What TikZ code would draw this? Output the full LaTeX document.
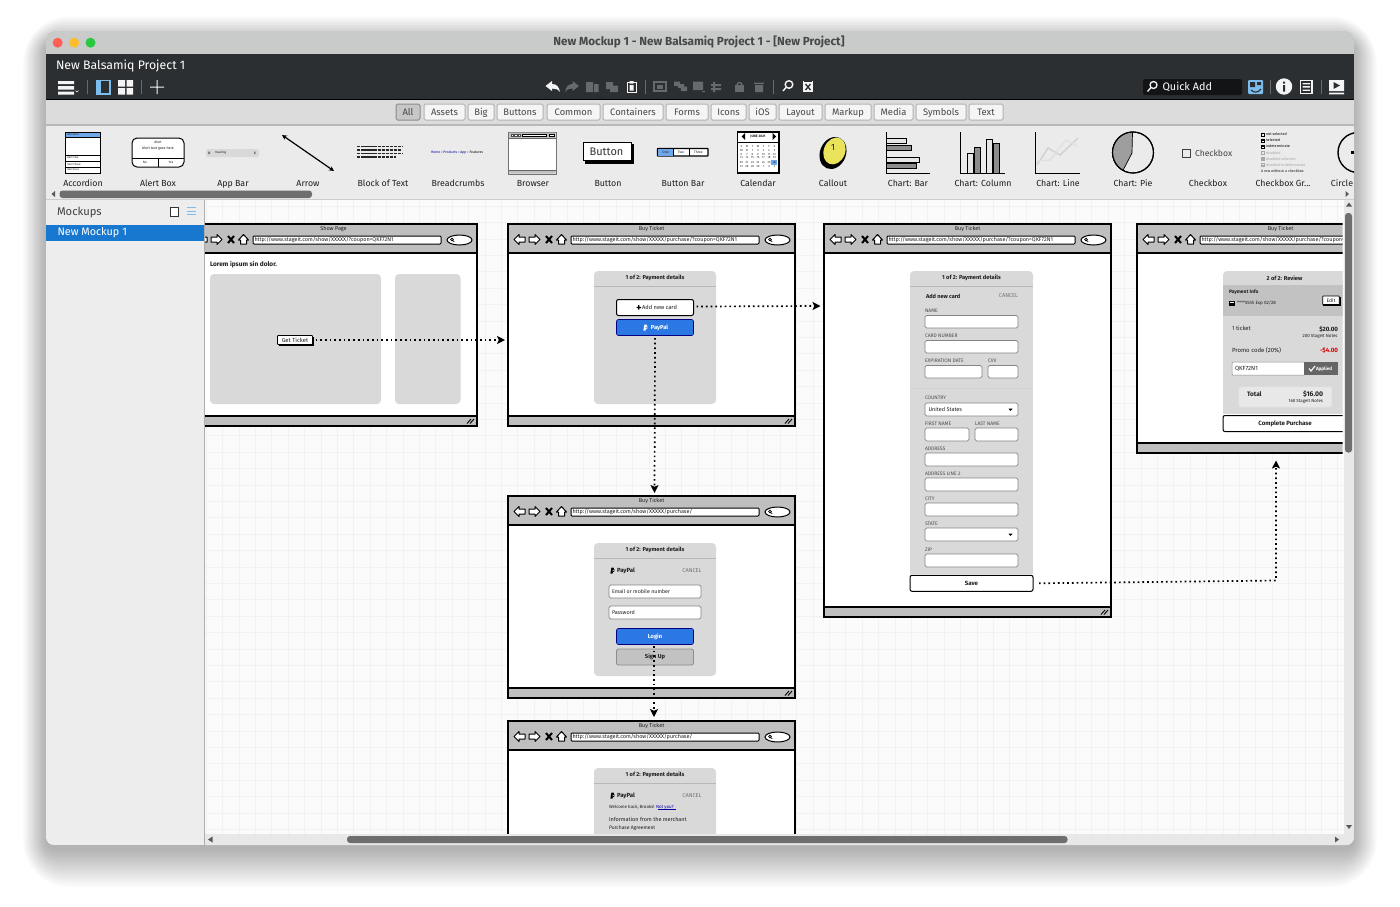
\documentclass[tikz,border=0pt]{standalone}
\usepackage{fontspec}
\setmainfont{Fira Sans}
\usetikzlibrary{arrows.meta,calc}
\definecolor{titlebar}{HTML}{C9CBCA}
\definecolor{darkbar}{HTML}{2B2F32}
\definecolor{tabbar}{HTML}{DCDCDC}
\definecolor{libbg}{HTML}{EBEBEB}
\definecolor{sidebg}{HTML}{EDEDED}
\definecolor{canvasbg}{HTML}{FBFBFB}
\definecolor{gridc}{HTML}{F2F2F2}
\definecolor{selblue}{HTML}{1878D0}
\definecolor{btnblue}{HTML}{2B78E4}
\definecolor{lightblue}{HTML}{6FA8EA}
\definecolor{skyblue}{HTML}{7DBDEE}
\definecolor{barg}{HTML}{BFBFBF}
\definecolor{panelg}{HTML}{D9D9D9}
\definecolor{ink}{HTML}{1E1E1E}
\definecolor{toolw}{HTML}{F4F4F4}
\definecolor{toolg}{HTML}{666A6C}
\definecolor{scrollg}{HTML}{6E6E6E}
\definecolor{tlred}{HTML}{FF5F57}
\definecolor{tlyellow}{HTML}{FEBC2E}
\definecolor{tlgreen}{HTML}{28C840}
\definecolor{calloutc}{HTML}{E8E35A}
\newcounter{autonode}
\newcommand{\fs}[1]{\fontsize{#1}{#1}\selectfont}
\tikzset{
  every node/.append style={inner sep=0pt,outer sep=0pt,text=ink,
    /utils/exec={\stepcounter{autonode}},name=n\arabic{autonode}},
  lib/.style={anchor=center,font=\fs{8.8}},
  tabbox/.style={draw=black!30,line width=1pt,fill=white!96!black,rounded corners=1.5pt},
  field/.style={draw=black!48,line width=.8pt,fill=white,rounded corners=1.6pt},
  sk/.style={draw=black,line width=1.1pt},
  panel/.style={fill=panelg,rounded corners=4pt},
  flabel/.style={anchor=west,font=\fs{5},text=black!70},
  btnw/.style={draw=black,line width=1pt,fill=white,rounded corners=2pt,anchor=center,font=\bfseries\fs{6.1}},
  btnb/.style={draw=blue!50!black,line width=.6pt,fill=btnblue,rounded corners=2pt,anchor=center,font=\bfseries\fs{5.8},text=white},
  link/.style={draw=black,line width=1.7pt,dash pattern=on 1.7pt off 3pt,-{Stealth[length=8pt,width=8pt,inset=1.8pt]}},
  ticon/.style={fill=toolw,draw=none},
  gicon/.style={fill=toolg,draw=none},
}
% browser mockup: name, left, top, height, title, url
\newcommand{\mockbrowser}[6]{%
  \begin{scope}[shift={(#2,#3)}]
    \node[anchor=north west,minimum width=287pt,minimum height=#4pt,fill=white,draw=none] (#1) at (0,0) {};
    \fill[barg] (0,0) rectangle (287,29);
    \fill[barg] (0,#4-10) rectangle (287,#4);
    \draw[sk] (0,0) rectangle (287,#4);
    \draw[sk] (0,29) -- (287,29);
    \draw[sk] (0,#4-10) -- (287,#4-10);
    \node[font=\fs{5.5}] at (143.5,5) {#5};
    % back / forward / stop / home
    \draw[fill=white,line width=1pt,line join=round] (6,15.5) -- (11,10.5) -- (11,13) -- (17,13) -- (17,18) -- (11,18) -- (11,20.5) -- cycle;
    \draw[fill=white,line width=1pt,line join=round] (32,15.5) -- (27,10.5) -- (27,13) -- (21,13) -- (21,18) -- (27,18) -- (27,20.5) -- cycle;
    \draw[line width=2pt] (38,12) -- (44,19) (44,12) -- (38,19);
    \draw[fill=white,line width=1pt,line join=round] (53.5,10.5) -- (58.5,16) -- (56.5,16) -- (56.5,20) -- (50.5,20) -- (50.5,16) -- (48.5,16) -- cycle;
    \draw[line width=1pt,fill=white,rounded corners=1pt] (63,12) rectangle (251,20);
    \node[anchor=west,font=\fs{5.5}] at (64.5,16) {#6};
    \draw[line width=1pt,fill=white] (269.5,16) ellipse [x radius=12.5pt,y radius=5pt];
    \draw[line width=.7pt] (262,15.5) circle [radius=1.4pt] (263,16.8) -- (264.2,17.8);
    \draw[line width=.9pt] (280,#4-2.5) -- (284,#4-7) (277,#4-2.5) -- (281,#4-7);
  \end{scope}}
\newcommand{\pplogo}[3]{%
  \fill[#3] (#1-1.6,#2+3) -- (#1-.6,#2-3) -- (#1+1.4,#2-3) .. controls (#1+2.8,#2-3) and (#1+2.6,#2+.4) .. (#1,#2+.4) -- (#1-.3,#2+3) -- cycle;
  \fill[#3] (#1-.4,#2+3.2) -- (#1,#2+.9) .. controls (#1+2,#2+.8) and (#1+2.6,#2-.6) .. (#1+2.2,#2-1.4) .. controls (#1+3.6,#2+.2) and (#1+2,#2+1.8) .. (#1+.8,#2+1.8) -- (#1+.5,#2+3.2) -- cycle;}
\begin{document}
\begin{tikzpicture}[x=1pt,y=-1pt]
\useasboundingbox (0,0) rectangle (1400,906);
\fill[white] (0,0) rectangle (1400,906);
% soft window shadow
\foreach \g in {0,2,...,38}{
  \fill[black,opacity=.014,rounded corners=8pt+\g*1pt] (46-\g*.6,31+12-\g*.7) rectangle (1354+\g*.6,845+4+\g);
}
\begin{scope}
\clip[rounded corners=8pt] (46,31) rectangle (1354,845);
\fill[sidebg] (46,31) rectangle (1354,845);
% title bar
\fill[titlebar] (46,31) rectangle (1354,54);
\fill[darkbar] (46,54) rectangle (1354,99);
\fill[black] (46,99) rectangle (1354,100);
\fill[tabbar] (46,100) rectangle (1354,124);
\fill[black!28] (46,124) rectangle (1354,125.5);
\fill[libbg] (46,125.5) rectangle (1354,199);
\fill[black!20] (46,199) rectangle (1354,200);
\node[font=\bfseries\fs{11.7},text=black!72] (wintitle) at (699,42.2) {New Mockup 1 - New Balsamiq Project 1 - [New Project]};
\fill[tlred] (57.7,42.7) circle [radius=5pt];
\fill[tlyellow] (74.2,42.7) circle [radius=5pt];
\fill[tlgreen] (90.5,42.7) circle [radius=5pt];
\node[anchor=west,text=white,font=\fs{12.3}] (project) at (56,65.7) {New Balsamiq Project 1};
% left toolbar
\fill[toolw] (58,81) rectangle (74,84) (58,86) rectangle (74,89.5) (58,91.5) rectangle (74,94.5);
\draw[toolw,line width=.6pt] (75.5,90.5) -- (77,92) -- (78.5,90.5);
\draw[toolg,line width=1pt] (87.5,80) -- (87.5,94);
\draw[fill=darkbar,draw=skyblue,line width=1.4pt] (96.5,80.5) rectangle (110,94);
\fill[skyblue] (96.5,80.5) rectangle (101,94);
\fill[toolw] (118,80) rectangle (125,86.5) (126.5,80) rectangle (133,86.5) (118,88) rectangle (125,94.5) (126.5,88) rectangle (133,94.5);
\draw[toolg,line width=1pt] (141.5,80) -- (141.5,94);
\fill[toolw] (150,86.5) rectangle (164,87.5) (156.5,80) rectangle (157.5,94);
% middle toolbar
\fill[ticon] (545.5,86) -- (552,81) -- (552,84) .. controls (557,84) and (559,87) .. (560,92) .. controls (558,89) and (555,88.5) .. (552,88.5) -- (552,91) -- cycle;
\fill[gicon] (579,86) -- (572.5,81) -- (572.5,84) .. controls (568,84) and (566,87) .. (565,92) .. controls (567,89) and (570,88.5) .. (572.5,88.5) -- (572.5,91) -- cycle;
\fill[gicon] (586,82) rectangle (593,92) (594,84) rectangle (598.5,92);
\fill[gicon] (606,82) rectangle (613,89) (610,85.5) rectangle (618,92);
\draw[toolw,line width=1pt,fill=darkbar] (627,82.5) rectangle (636,92.5);
\fill[ticon] (629.5,81) rectangle (633.5,83.5) (629.5,85) rectangle (633.5,90.5);
\draw[toolg,line width=1pt] (645.5,80) -- (645.5,94);
\draw[toolg,line width=1.2pt] (654,82) rectangle (666,91);
\fill[gicon] (657,84.5) rectangle (663,88.5);
\fill[gicon] (674,81.5) rectangle (680,86) (681,86.5) rectangle (687,91) (678,84) rectangle (684,88);
\fill[gicon] (693,81.5) rectangle (703,90) (702,91) rectangle (705,92);
\fill[gicon] (713,82) rectangle (715,92) (711,84) rectangle (721,86) (711,88) rectangle (721,90);
\fill[gicon] (735,85) rectangle (744,92);
\draw[toolg,line width=1.3pt] (737,85) arc [start angle=180,end angle=0,radius=2.5pt];
\fill[gicon] (755,85) rectangle (763,92) (754,82.5) rectangle (764,84);
\draw[toolg,line width=1pt] (773.5,80) -- (773.5,94);
\draw[toolw,line width=1.4pt] (789,84.5) circle [radius=3.8pt] (786,87.5) -- (783,91);
\fill[ticon] (803,81) rectangle (813,92);
\draw[darkbar,line width=1.3pt] (805.5,84) -- (810.5,90) (810.5,84) -- (805.5,90);
\fill[darkbar] (804,81) rectangle (812,82.3);
% right toolbar
\fill[black!58!darkbar,rounded corners=2pt] (1143,79) rectangle (1242,95);
\draw[toolw,line width=1.3pt] (1153.5,85) circle [radius=3.5pt] (1151,87.5) -- (1147.5,91.5);
\node[anchor=west,text=white,font=\fs{10.8}] (quickadd) at (1162.5,86.5) {Quick Add};
\fill[skyblue,rounded corners=1pt] (1248,80) rectangle (1263,94);
\fill[darkbar] (1250,82) rectangle (1255,87) (1257,82) rectangle (1261,85);
\draw[darkbar,line width=1.1pt] (1251,90) .. controls (1254,93) and (1258,93) .. (1261,89);
\draw[toolg,line width=1pt] (1270.5,80) -- (1270.5,94);
\fill[toolw] (1284,86.5) circle [radius=8.2pt];
\fill[darkbar] (1283,85) rectangle (1285.2,91.5) (1283,81.5) rectangle (1285.2,83.6);
\draw[toolw,line width=1.2pt,fill=darkbar] (1300.5,80.5) rectangle (1312,93.5);
\fill[toolw] (1302.5,83) rectangle (1310,84.3) (1302.5,86.2) rectangle (1310,87.5) (1302.5,89.5) rectangle (1310,90.8);
\draw[toolg,line width=1pt] (1321.5,80) -- (1321.5,94);
\fill[toolw] (1329,80) rectangle (1344,91) (1329,92.5) rectangle (1344,94.3);
\fill[darkbar] (1333.5,82) -- (1340,85.5) -- (1333.5,89) -- cycle;
% tabs
\foreach \a/\b/\t in {424/465/Assets,468/494/Big,497/543/Buttons,547/600/Common,603/663/Containers,666/708/Forms,711/746/Icons,749/776/iOS,779/822/Layout,825/871/Markup,874/913/Media,916/966/Symbols,969/1003/Text}{
  \draw[tabbox] (\a,104) rectangle (\b,120);
  \node[font=\fs{9.4},text=black!72,anchor=base] at ({(\a+\b)/2},115.3) {\t};
}
\draw[draw=black!45,line width=1pt,fill=black!22,rounded corners=1.5pt] (396,104) rectangle (420,120);
\node[font=\fs{9.4},text=black!72,anchor=base] at (408,115.3) {All};
% library labels
\foreach \x/\t in {83/Accordion,158/Alert Box,233/App Bar,308/Arrow,383/Block of Text,458/Breadcrumbs,533/Browser,608/Button,683/Button Bar,758/Calendar,833/Callout,908/Chart: Bar,983/Chart: Column,1058/Chart: Line,1133/Chart: Pie,1208/Checkbox,1342/Circle}{
  \node[lib,anchor=base] at (\x,186) {\t};
}
\node[lib,anchor=base] (checkgroup) at (1283,186) {Checkbox Gr{.}{.}{.}};
% accordion
\draw[fill=white,line width=1pt] (65.5,132) rectangle (100,173);
\fill[lightblue] (66,132.5) rectangle (99.5,137);
\draw[line width=.8pt] (65.5,137.3) -- (100,137.3) (65.5,155) -- (100,155) (65.5,161) -- (100,161) (65.5,167) -- (100,167);
\foreach \y/\t in {134.8/Item One,158/Item Two,164/Item Three,170/Item Four}{\node[anchor=west,font=\fs{2.8}] at (67,\y) {\t};}
% alert box
\draw[fill=white,line width=1pt,rounded corners=5pt] (132,138) rectangle (184,167);
\draw[line width=.8pt] (132,158) -- (184,158) (158,158) -- (158,167);
\node[font=\fs{3.4}] at (158,142.2) {Alert};
\node[font=\fs{3.6}] at (158,149) {Alert text goes here};
\node[font=\fs{3.2}] at (145,162.5) {No};
\node[font=\fs{3.2}] at (171,162.5) {Yes};
% app bar
\fill[black!15,rounded corners=1.5pt] (206,149) rectangle (259,157);
\node[font=\fs{3},anchor=west] at (215,152.8) {Heading};
\fill[black!50] (208,151.5) rectangle (210,154) (254,151.5) rectangle (255.5,154);
% arrow
\coordinate (arrowa) at (282,135); \coordinate (arrowb) at (334,171);
\draw[line width=1.2pt,{Stealth[length=5pt,width=5pt]}-{Stealth[length=5pt,width=5pt]}] (arrowa) -- (arrowb);
% block of text
\foreach \y/\e in {146.5/403,150/402,153.5/403,157/396}{
  \draw[line width=1.5pt,draw=black!85,dash pattern=on 3.4pt off .7pt] (357,\y) -- (\e,\y);
}
% breadcrumbs
\node[font=\fs{3.5},text=blue!65!black,anchor=west] at (431,152.7) {Home \textcolor{black}{›} Products \textcolor{black}{›} App \textcolor{black}{›} \textcolor{black}{Features}};
% browser
\draw[fill=white,draw=black!55,line width=.8pt] (508.5,132) rectangle (556,174);
\fill[black!25] (509,132.5) rectangle (555.5,138) (509,170) rectangle (555.5,173.5);
\draw[black!60,line width=.4pt] (509,138) -- (555.5,138) (509,170) -- (555.5,170);
\draw[black!70,fill=white,line width=.4pt] (511,134) rectangle (513.5,136.5) (514.5,134) rectangle (517,136.5) (518,134) rectangle (520.5,136.5);
\draw[fill=white,line width=.4pt] (522,134.5) rectangle (546,136.3);
\draw[fill=white,line width=.4pt] (549,134.2) rectangle (554,136.6);
% button
\fill[black] (585,144) rectangle (633.5,163.5);
\draw[fill=white,line width=1pt] (583,142) rectangle (631,160);
\node[font=\fs{11},text=black!80] at (606.5,151.8) {Button};
% button bar
\draw[fill=white,line width=1.1pt,rounded corners=.5pt] (657.5,148.5) rectangle (708,156);
\fill[lightblue] (658,149) rectangle (673,155.5);
\draw[line width=.8pt] (673,148.5) -- (673,156) (689,148.5) -- (689,156);
\foreach \x/\t in {665.5/One,681/Two,698.5/Three}{\node[font=\fs{3.4}] at (\x,152.3) {\t};}
% calendar
\draw[fill=white,line width=1.2pt] (737.5,132) rectangle (779,173);
\node[font=\bfseries\fs{3.4}] at (758,136.3) {JUNE 2021};
\fill[black] (741.5,136.5) -- (745,133) -- (745,140) -- cycle (772.5,133) -- (776,136.5) -- (772.5,140) -- cycle;
\draw[line width=.6pt] (737.5,142.5) -- (779,142.5);
\fill[lightblue] (771,160) rectangle (776.5,164.5);
\foreach \d [count=\i from 0] in {S,M,T,W,T,F,S}{\node[font=\fs{2.9}] at (741.5+5.5*\i,146) {\d};}
\foreach \y/\l in {150.7/{30,31,1,2,3,4,5},154.4/{6,7,8,9,10,11,12},158/{13,14,15,16,17,18,19},162.2/{20,21,22,23,24,25,26},166.2/{27,28,29,30,1,2,3}}{
  \foreach \d [count=\i from 0] in \l {\node[font=\fs{2.9}] at (741.5+5.5*\i,\y) {\d};}
}
% callout
\fill[black,rotate around={-22:(833,153)}] (833,153) ellipse [x radius=13pt,y radius=16.5pt];
\fill[calloutc,rotate around={-22:(834.5,151)}] (834.5,151) ellipse [x radius=10.7pt,y radius=13.8pt];
\node[font=\fs{9}] at (833,147) {1};
% chart bar
\draw[line width=1pt] (886,132) -- (886,173) -- (930,173);
\draw[line width=.8pt,fill=black!10] (886,138.5) rectangle (906,143.5) (886,157) rectangle (919,162);
\draw[line width=.8pt,fill=black!45] (886,145) rectangle (911,150) (886,163) rectangle (916,168);
% chart column
\draw[line width=1pt] (960,132) -- (960,173) -- (1005,173);
\draw[line width=.8pt,fill=black!10] (967,153) rectangle (973,173) (986,139) rectangle (992,173);
\draw[line width=.8pt,fill=black!45] (974,147.5) rectangle (980,173) (993,143) rectangle (999,173);
% chart line
\draw[line width=1pt] (1035,132) -- (1035,173) -- (1080,173);
\draw[black!18,line width=1.4pt] (1037,165) -- (1048,148) -- (1060,155) -- (1078,138);
\draw[black!12,line width=1.4pt] (1036,161) -- (1050,160) -- (1066,140) -- (1077,146);
% chart pie
\draw[fill=black!8,line width=1.1pt] (1133,152.5) circle [radius=20.5pt];
\draw[fill=black!38,line width=.7pt] (1132.5,132) -- (1132,153) -- (1123,170.3) arc [start angle=241,end angle=91,radius=20.5pt] -- cycle;
\draw[line width=1.1pt] (1133,152.5) circle [radius=20.5pt];
% checkbox
\draw[line width=.9pt,draw=black!75,fill=none] (1182,149) rectangle (1190,157);
\node[anchor=west,font=\fs{8.6},text=black!75] at (1195,153) {Checkbox};
% checkbox group
\foreach \y/\t/\o/\m in {134.3/not selected/100/0,140.3/selected/100/1,146.5/indeterminate/100/2,152.7/disabled/35/0,158.7/disabled selected/35/1,165/disabled indeterminate/35/2}{
  \draw[line width=.4pt,draw=black!\o] (1261,\y-1.6) rectangle (1264,\y+1.6);
  \ifnum\m=1 \fill[black!\o] (1261.4,\y-1) rectangle (1263.6,\y+1);\fi
  \ifnum\m=2 \fill[black!\o] (1261.4,\y-.4) rectangle (1263.6,\y+.4);\fi
  \node[anchor=west,font=\fs{3.7},text=black!\o] at (1266,\y) {\t};
}
\node[anchor=west,font=\fs{3.7}] at (1261,171) {A row without a checkbox};
% circle
\draw[line width=1.4pt,fill=libbg] (1358,152.5) circle [radius=20pt];
\fill[black] (1350.5,151) rectangle (1354,154);
% library scrollbar
\fill[scrollg,rounded corners=3pt] (59.5,190.5) rectangle (312,198);
\fill[black!65] (51.5,194) -- (55,191) -- (55,197) -- cycle (1345.5,191) -- (1349,194) -- (1345.5,197) -- cycle;
% sidebar
\node[anchor=west,font=\fs{11.2},text=black!75] (mockups) at (57,212) {Mockups};
\draw[line width=.8pt,draw=black!80,fill=white] (170,207) rectangle (178.5,216);
\draw[skyblue,line width=1pt] (187,207.5) -- (196,207.5) (187,211) -- (196,211) (187,214.5) -- (196,214.5);
\fill[selblue] (46,225) rectangle (204,241);
\node[anchor=west,text=white,font=\fs{10.8}] (current) at (57.5,233) {New Mockup 1};
\fill[black!32] (204,200) rectangle (205,845);
% canvas
\fill[canvasbg] (205,200) rectangle (1344,834);
\foreach \x in {206,222.4,...,1344}{\draw[gridc,line width=.6pt] (\x,200) -- (\x,834);}
\foreach \y in {206,222.4,...,834}{\draw[gridc,line width=.6pt] (205,\y) -- (1344,\y);}
\begin{scope}
\clip (205,200) rectangle (1342.5,834);
\mockbrowser{browserA}{190}{224}{202}{Show Page}{http://www.stageit.com/show/XXXXX/?coupon=QKF72N1}
\mockbrowser{browserB}{508}{224}{202}{Buy Ticket}{http://www.stageit.com/show/XXXXX/purchase/?coupon=QKF72N1}
\mockbrowser{browserC}{824}{224}{393}{Buy Ticket}{http://www.stageit.com/show/XXXXX/purchase/?coupon=QKF72N1}
\mockbrowser{browserD}{1137}{224}{229}{Buy Ticket}{http://www.stageit.com/show/XXXXX/purchase/?coupon=QKF72N1}
\mockbrowser{browserE}{508}{496}{202}{Buy Ticket}{http://www.stageit.com/show/XXXXX/purchase/}
\mockbrowser{browserF}{508}{721}{202}{Buy Ticket}{http://www.stageit.com/show/XXXXX/purchase/}
% --- A
\node[anchor=west,font=\bfseries\fs{6.5}] at (210,264.5) {Lorem ipsum sin dolor.};
\fill[panel] (210,274) rectangle (381,404);
\fill[panel] (395,274) rectangle (460.5,404);
\fill[black] (278.5,337) rectangle (314,346);
\node[draw=black,line width=.9pt,fill=white,rounded corners=.8pt,minimum width=35pt,minimum height=9pt,font=\fs{5.9}] (getticket) at (295,340) {Get Ticket};
% --- B
\fill[panel] (594,271) rectangle (716,404);
\draw[black!28,line width=.7pt] (594,286) -- (716,286);
\node[font=\bfseries\fs{5.7}] at (655,278) {1 of 2: Payment details};
\node[btnw,minimum width=77pt,minimum height=16pt,font=\fs{5.7}] (addcard) at (655,307.5) {\hspace{9pt}Add new card};
\fill[black] (636.5,306.8) rectangle (641,308) (638.2,305) rectangle (639.4,309.6);
\node[btnb,minimum width=77pt,minimum height=16pt] (paypalbtn) at (655,327.5) {\hspace{9pt}PayPal};
\pplogo{645}{327.5}{white}
% --- C
\fill[panelg,rounded corners=4pt] (910,271) rectangle (1033,290);
\fill[panelg] (910,280) rectangle (1033,574);
\draw[black!28,line width=.7pt] (910,286) -- (1033,286);
\draw[black!18,line width=.7pt] (910,388) -- (1033,388);
\node[font=\bfseries\fs{5.7}] at (971.5,278) {1 of 2: Payment details};
\node[anchor=west,font=\bfseries\fs{5.6}] at (926,296) {Add new card};
\node[anchor=east,font=\fs{5.6},text=black!55] at (1018,296) {CANCEL};
\foreach \t/\x/\y in {NAME/925/311,CARD NUMBER/925/336,EXPIRATION DATE/925/361,CVV/988/361,COUNTRY/925/398,FIRST NAME/925/424,LAST NAME/975/424,ADDRESS/925/449,ADDRESS LINE 2/925/474,CITY/925/499,STATE/925/524,ZIP/925/550}{
  \node[flabel] at (\x,\y) {\t};
}
\foreach \a/\t/\b/\u in {925/315.5/1018/328,925/340.5/1018/353,925/365.5/982/378,988/365.5/1018/378,925/403/1018/416,925/428/969/441,975/428/1018/441,925/453/1018/466,925/478/1018/491,925/503/1018/516,925/528/1018/541,925/554/1018/567}{
  \draw[field] (\a,\t) rectangle (\b,\u);
}
\node[anchor=west,font=\fs{5.5}] at (928.5,409.5) {United States};
\fill[black] (1008.5,408.7) -- (1012.5,408.7) -- (1010.5,411) -- cycle (1008.5,533.7) -- (1012.5,533.7) -- (1010.5,536) -- cycle;
\node[btnw,minimum width=123pt,minimum height=16pt] (savebtn) at (971.5,583.3) {Save};
% --- D
\fill[panelg,rounded corners=4pt] (1223,271) rectangle (1350,290);
\fill[panelg] (1223,280) rectangle (1350,414);
\fill[black!24] (1223,285) rectangle (1350,316);
\node[font=\bfseries\fs{5.7}] at (1284.5,278) {2 of 2: Review};
\node[anchor=west,font=\bfseries\fs{4.9}] at (1229,292.5) {Payment Info};
\fill[black] (1229,300.5) rectangle (1235,305.5);
\fill[white] (1230,301.7) rectangle (1234,302.7);
\node[anchor=west,font=\fs{4.6}] at (1237,303) {****5555 Exp 02/28};
\fill[black] (1323,296.5) rectangle (1341,306);
\node[draw=black,line width=.7pt,fill=white,minimum width=16.5pt,minimum height=8.5pt,font=\fs{5},rounded corners=.5pt] (editbtn) at (1331,300.3) {Edit};
\node[anchor=west,font=\fs{5.8}] at (1232,328.5) {1 ticket};
\node[anchor=east,font=\bfseries\fs{6.2}] at (1338,329) {\$20.00};
\node[anchor=east,font=\fs{4.4}] at (1337.5,336.5) {200 StageIt Notes};
\node[anchor=west,font=\fs{6}] at (1232,350) {Promo code (20\%)};
\node[anchor=east,font=\bfseries\fs{6.2},text=red!85!black] at (1338,350) {-\$4.00};
\fill[white,rounded corners=1pt] (1232,362) rectangle (1305,375);
\draw[black!45,line width=.5pt,rounded corners=1pt] (1232,362) rectangle (1305,375);
\node[anchor=west,font=\fs{6}] at (1235,368.5) {QKF72N1};
\fill[black!60] (1304,362) rectangle (1338,375);
\draw[white,line width=1.1pt] (1309,368.5) -- (1311,371) -- (1315,366);
\node[anchor=west,font=\bfseries\fs{4.6},text=white] at (1316,368.7) {Applied};
\draw[fill=black!9,draw=white!90!black,line width=.8pt,rounded corners=2pt] (1239,387) rectangle (1331.5,407);
\node[anchor=west,font=\bfseries\fs{6.4}] at (1247,394.5) {Total};
\node[anchor=east,font=\bfseries\fs{6.8}] at (1323,394.5) {\$16.00};
\node[anchor=east,font=\fs{4.4}] at (1323,401.5) {160 StageIt Notes};
\node[btnw,minimum width=124pt,minimum height=16pt] (purchase) at (1285,423.5) {Complete Purchase};
% --- E
\fill[panel] (594,543) rectangle (716,676);
\draw[black!28,line width=.7pt] (594,558) -- (716,558);
\node[font=\bfseries\fs{5.7}] at (655,549.5) {1 of 2: Payment details};
\pplogo{612}{570.5}{black}
\node[anchor=west,font=\bfseries\fs{6}] at (617,570.5) {PayPal};
\node[anchor=east,font=\fs{5.6},text=black!55] at (701.5,570.8) {CANCEL};
\node[field,minimum width=92pt,minimum height=13pt,anchor=west] (emailf) at (609,591.5) {};
\node[anchor=west,font=\fs{5.3}] at (612,591.5) {Email or mobile number};
\node[field,minimum width=92pt,minimum height=13pt,anchor=west] (passf) at (609,612.5) {};
\node[anchor=west,font=\fs{5.4}] at (612,612.5) {Password};
\node[btnb,minimum width=77pt,minimum height=16pt] (loginbtn) at (655,636.5) {Login};
\node[draw=black!45,line width=.8pt,fill=black!24,rounded corners=2pt,minimum width=77pt,minimum height=16pt,font=\bfseries\fs{5.8}] (signup) at (655,657) {Sign Up};
% --- F
\fill[panel] (594,768) rectangle (716,860);
\draw[black!28,line width=.7pt] (594,783) -- (716,783);
\node[font=\bfseries\fs{5.7}] at (655,774.5) {1 of 2: Payment details};
\pplogo{612}{795.5}{black}
\node[anchor=west,font=\bfseries\fs{6}] at (617,795.5) {PayPal};
\node[anchor=east,font=\fs{5.6},text=black!55] at (701.5,795.8) {CANCEL};
\node[anchor=west,font=\fs{4.4}] at (609,807) {Welcome back, Brooks! \textcolor{blue!65!black}{Not you?}};
\draw[blue!65!black,line width=.3pt] (657.5,809.3) -- (676,809.3);
\node[anchor=west,font=\fs{5.5}] at (609,819.5) {Information from the merchant};
\node[anchor=west,font=\fs{5}] at (609,828.3) {Purchase Agreement};
\end{scope}
% connectors
\coordinate (endA) at (505,340);
\coordinate (endB) at (820.5,306);
\coordinate (endC) at (654.5,493);
\coordinate (endD) at (654,717);
\coordinate (endE) at (1276,460.5);
\coordinate (startC) at (655,338);
\coordinate (startD) at (654,646);
\coordinate (bendE) at (1276,580.5);
\draw[link] ([xshift=3pt]getticket.east) -- (endA);
\draw[link] ([xshift=3pt,yshift=1pt]addcard.east) -- (endB);
\draw[link] (startC) -- (endC);
\draw[link] (startD) -- (endD);
\draw[link] ([xshift=6pt]savebtn.east) -- (bendE) -- (endE);
% canvas scrollbars
\fill[black!9] (1344,200) rectangle (1354,845) (205,834) rectangle (1354,845);
\fill[scrollg,rounded corners=3pt] (1345,213) rectangle (1352,452.5);
\fill[scrollg,rounded corners=3pt] (347,836) rectangle (1067.5,843);
\fill[black!65] (1349,202.5) -- (1352,206.5) -- (1346,206.5) -- cycle (1346,825) -- (1352,825) -- (1349,829) -- cycle;
\fill[black!65] (208,839.5) -- (212.5,836.5) -- (212.5,842.5) -- cycle (1335,836.5) -- (1339,839.5) -- (1335,842.5) -- cycle;
\end{scope}
\end{tikzpicture}
\end{document}
